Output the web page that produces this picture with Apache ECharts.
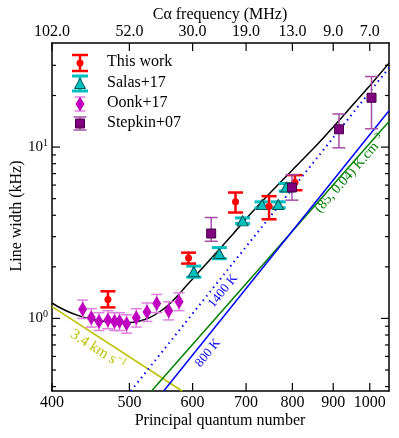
<!DOCTYPE html>
<html>
<head>
<meta charset="utf-8">
<script src="https://cdn.jsdelivr.net/npm/echarts@6/dist/echarts.min.js"></script>
<style>html,body{margin:0;padding:0;background:#fff}#chart{width:399px;height:438px}</style>
</head>
<body>
<div id="chart"></div>
<script>
// ticks
const xTicks = [400, 500, 600, 700, 800, 900, 1000]
const freqLabels = ['102.0', '52.0', '30.0', '19.0', '13.0', '9.0', '7.0']
const yMajor = [1, 10]
const yMajorExp = ['0', '1']
const yMinor = [0.4, 0.5, 0.6, 0.7, 0.8, 0.9, 2, 3, 4, 5, 6, 7, 8, 9, 20, 30]

// This work
const thisN = [470, 593, 679, 748, 806]
const thisW = [1.29, 2.25, 4.79, 4.52, 6.22]
const thisLo = [1.16, 2.09, 4.15, 3.79, 5.6]
const thisHi = [1.44, 2.42, 5.43, 5.17, 6.86]

// Salas+17
const salasN = [602, 648, 693, 733, 768, 786]
const salasW = [1.87, 2.39, 3.71, 4.62, 4.62, 5.84]
const salasLo = [1.74, 2.23, 3.58, 4.42, 4.42, 5.53]
const salasHi = [2.02, 2.59, 3.86, 4.79, 4.79, 6.13]

// Oonk+17
const oonkN = [437, 448, 458, 470, 479, 486, 496, 510, 526, 541, 560, 577]
const oonkW = [1.13, 1.01, 0.96, 0.98, 0.96, 0.96, 0.93, 1.01, 1.09, 1.22, 1.11, 1.25]
const oonkLo = [1.0, 0.89, 0.85, 0.87, 0.85, 0.85, 0.82, 0.89, 0.96, 1.08, 0.98, 1.11]
const oonkHi = [1.28, 1.14, 1.08, 1.11, 1.08, 1.08, 1.05, 1.14, 1.23, 1.38, 1.25, 1.41]

// Stepkin+07
const stepN = [633, 799, 915, 1005]
const stepW = [3.13, 5.81, 12.7, 19.4]
const stepLo = [2.82, 4.9, 9.9, 12.8]
const stepHi = [3.88, 6.9, 15.6, 25.8]

// model curves
const modelN = [400, 410, 420, 430, 440, 455, 470, 485, 500, 515, 530, 545, 560, 575, 587, 600, 625, 650, 675, 700, 750, 800, 850, 900, 950, 1000, 1057]
const modelW = [1.23, 1.15, 1.09, 1.045, 1.01, 0.975, 0.955, 0.945, 0.945, 0.965, 1.01, 1.09, 1.2, 1.36, 1.52, 1.70, 2.1, 2.57, 3.13, 3.82, 5.4, 7.35, 9.8, 13.1, 17.4, 22.8, 30.9]
const dopN = [400, 582]
const dopW = [1.17, 0.377]
const collN = [533, 1057]
const collW = [0.377, 14.1]
const rad800N = [552, 1057]
const rad800W = [0.377, 16.3]
const rad1400N = [502, 1057]
const rad1400W = [0.377, 29]

const X_MIN = 400, X_MAX = 1057, Y_MIN = 0.377, Y_MAX = 40.5
const FONT = '"Liberation Serif", "DejaVu Serif", serif'

const pairs = (xs, ys) => xs.map((x, i) => [x, ys[i]])
const triples = (xs, lo, hi) => xs.map((x, i) => [x, lo[i], hi[i]])

function errRenderer(color, width, cap) {
  return function (params, api) {
    const a = api.coord([api.value(0), api.value(1)])
    const b = api.coord([api.value(0), api.value(2)])
    const st = { stroke: color, lineWidth: width }
    return {
      type: 'group',
      children: [
        { type: 'line', shape: { x1: a[0], y1: a[1], x2: b[0], y2: b[1] }, style: st },
        { type: 'line', shape: { x1: a[0] - cap / 2, y1: a[1], x2: a[0] + cap / 2, y2: a[1] }, style: st },
        { type: 'line', shape: { x1: b[0] - cap / 2, y1: b[1], x2: b[0] + cap / 2, y2: b[1] }, style: st }
      ]
    }
  }
}

function renderXTick(params, api) {
  const v = api.value(0)
  const b = api.coord([v, Y_MIN])
  const t = api.coord([v, Y_MAX])
  const st = { stroke: '#000', lineWidth: 1.2 }
  return {
    type: 'group',
    children: [
      { type: 'line', shape: { x1: b[0], y1: b[1], x2: b[0], y2: b[1] - 8 }, style: st },
      { type: 'line', shape: { x1: t[0], y1: t[1], x2: t[0], y2: t[1] + 8 }, style: st },
      { type: 'text', style: { text: String(v), x: b[0], y: b[1] + 12, align: 'center', verticalAlign: 'middle', font: '16px ' + FONT, fill: '#000' } },
      { type: 'text', style: { text: freqLabels[params.dataIndex], x: t[0], y: t[1] - 11, align: 'center', verticalAlign: 'middle', font: '16px ' + FONT, fill: '#000' } }
    ]
  }
}

function renderYTick(major) {
  return function (params, api) {
    const v = api.value(0)
    const l = api.coord([X_MIN, v])
    const r = api.coord([X_MAX, v])
    const len = major ? 8 : 4
    const st = { stroke: '#000', lineWidth: 1.2 }
    const kids = [
      { type: 'line', shape: { x1: l[0], y1: l[1], x2: l[0] + len, y2: l[1] }, style: st },
      { type: 'line', shape: { x1: r[0], y1: r[1], x2: r[0] - len, y2: r[1] }, style: st }
    ]
    if (major) {
      kids.push({
        type: 'text',
        style: {
          text: '{a|10}{b|' + yMajorExp[params.dataIndex] + '}',
          x: l[0] - 4, y: l[1], align: 'right', verticalAlign: 'middle',
          rich: {
            a: { font: '15px ' + FONT, fill: '#000', lineHeight: 18 },
            b: { font: '10px ' + FONT, fill: '#000', verticalAlign: 'top', lineHeight: 18 }
          }
        }
      })
    }
    return { type: 'group', children: kids }
  }
}

const myChart = echarts.init(document.getElementById('chart'))

const lineBase = { type: 'line', symbol: 'none', silent: true, z: 2, animation: false }

const option = {
  animation: false,
  grid: { left: 52, right: 10, top: 43, bottom: 47 },
  xAxis: [
    { type: 'log', min: X_MIN, max: X_MAX, axisLabel: { show: false }, axisTick: { show: false }, splitLine: { show: false }, minorTick: { show: false },
      axisLine: { lineStyle: { color: '#000', width: 1.5 } } },
    { type: 'log', position: 'top', min: X_MIN, max: X_MAX, axisLabel: { show: false }, axisTick: { show: false }, splitLine: { show: false },
      axisLine: { lineStyle: { color: '#000', width: 1.5 } } }
  ],
  yAxis: [
    { type: 'log', min: Y_MIN, max: Y_MAX, axisLabel: { show: false }, axisTick: { show: false }, splitLine: { show: false },
      axisLine: { show: true, lineStyle: { color: '#000', width: 1.5 } } },
    { type: 'log', position: 'right', min: Y_MIN, max: Y_MAX, axisLabel: { show: false }, axisTick: { show: false }, splitLine: { show: false },
      axisLine: { show: true, lineStyle: { color: '#000', width: 1.5 } } }
  ],
  series: [
    { ...lineBase, data: pairs(dopN, dopW), lineStyle: { color: '#bfbf00', width: 1.5 } },
    { ...lineBase, data: pairs(collN, collW), lineStyle: { color: '#008000', width: 1.5 } },
    { ...lineBase, data: pairs(rad800N, rad800W), lineStyle: { color: '#0000ff', width: 1.5 } },
    { ...lineBase, data: pairs(rad1400N, rad1400W), lineStyle: { color: '#0000ff', width: 2, type: [1.5, 4] } },
    { ...lineBase, data: pairs(modelN, modelW), smooth: 0.15, lineStyle: { color: '#000', width: 1.5 } },

    { type: 'custom', z: 3, clip: false, renderItem: errRenderer('#df80df', 1.5, 11), data: triples(oonkN, oonkLo, oonkHi), encode: { x: 0, y: [1, 2] } },
    { type: 'scatter', z: 4, symbol: 'diamond', symbolSize: [9, 15], itemStyle: { color: '#bf00bf', opacity: 1 }, data: pairs(oonkN, oonkW) },

    { type: 'custom', z: 3, clip: false, renderItem: errRenderer('#00bfbf', 3, 15), data: triples(salasN, salasLo, salasHi), encode: { x: 0, y: [1, 2] } },
    { type: 'scatter', z: 4, symbol: 'triangle', symbolSize: [11, 10], itemStyle: { color: '#00bfbf', borderColor: '#005555', borderWidth: 1, opacity: 1 }, data: pairs(salasN, salasW) },

    { type: 'custom', z: 5, clip: false, renderItem: errRenderer('#ff0000', 2.5, 15), data: triples(thisN, thisLo, thisHi), encode: { x: 0, y: [1, 2] } },
    { type: 'scatter', z: 6, symbol: 'circle', symbolSize: 7, itemStyle: { color: '#ff0000', opacity: 1 }, data: pairs(thisN, thisW) },

    { type: 'custom', z: 7, clip: false, renderItem: errRenderer('#a64da6', 1.5, 13), data: triples(stepN, stepLo, stepHi), encode: { x: 0, y: [1, 2] } },
    { type: 'scatter', z: 8, symbol: 'rect', symbolSize: 9, itemStyle: { color: '#800080', borderColor: '#400040', borderWidth: 1, opacity: 1 }, data: pairs(stepN, stepW) },

    { type: 'custom', z: 10, clip: false, silent: true, renderItem: renderXTick, data: xTicks.map(v => [v, Y_MIN]) },
    { type: 'custom', z: 10, clip: false, silent: true, renderItem: renderYTick(true), data: yMajor.map(v => [v, X_MIN]), encode: { x: 1, y: 0 } },
    { type: 'custom', z: 10, clip: false, silent: true, renderItem: renderYTick(false), data: yMinor.map(v => [v, X_MIN]), encode: { x: 1, y: 0 } }
  ],
  graphic: [
    // axis names
    { type: 'text', x: 220, y: 421, style: { text: 'Principal quantum number', font: '16px ' + FONT, fill: '#000', align: 'center', verticalAlign: 'middle' } },
    { type: 'text', x: 220, y: 15, style: { text: 'Cα frequency (MHz)', font: '16px ' + FONT, fill: '#000', align: 'center', verticalAlign: 'middle' } },
    { type: 'text', x: 17, y: 216, rotation: Math.PI / 2, style: { text: 'Line width (kHz)', font: '16px ' + FONT, fill: '#000', align: 'center', verticalAlign: 'middle' } },

    // line annotations
    { type: 'text', x: 98, y: 350, rotation: -0.57, z: 20,
      style: { text: '3.4 km s{s|−1}', font: '15px ' + FONT, fill: '#bfbf00', align: 'center', verticalAlign: 'middle',
        rich: { s: { font: '10px ' + FONT, fill: '#bfbf00', verticalAlign: 'top', lineHeight: 19 } } } },
    { type: 'text', x: 223, y: 291, rotation: 0.895, z: 20, style: { text: '1400 K', font: '13px ' + FONT, fill: '#0000ff', align: 'center', verticalAlign: 'middle' } },
    { type: 'text', x: 208, y: 353, rotation: 0.89, z: 20, style: { text: '800 K', font: '13px ' + FONT, fill: '#0000ff', align: 'center', verticalAlign: 'middle' } },
    { type: 'text', x: 350, y: 174, rotation: 0.846, z: 20,
      style: { text: '(85, 0.04) K.cm{s|−3}', font: '14px ' + FONT, fill: '#008000', align: 'center', verticalAlign: 'middle',
        rich: { s: { font: '9px ' + FONT, fill: '#008000', verticalAlign: 'top', lineHeight: 18 } } } },

    // legend: This work
    { type: 'line', shape: { x1: 80, y1: 55, x2: 80, y2: 71 }, style: { stroke: '#ff0000', lineWidth: 2.5 } },
    { type: 'line', shape: { x1: 72, y1: 55, x2: 88, y2: 55 }, style: { stroke: '#ff0000', lineWidth: 2.5 } },
    { type: 'line', shape: { x1: 72, y1: 71, x2: 88, y2: 71 }, style: { stroke: '#ff0000', lineWidth: 2.5 } },
    { type: 'circle', shape: { cx: 80, cy: 63, r: 3.5 }, style: { fill: '#ff0000' } },
    { type: 'text', x: 107, y: 62, style: { text: 'This work', font: '16px ' + FONT, fill: '#000', verticalAlign: 'middle' } },
    // legend: Salas+17
    { type: 'line', shape: { x1: 80, y1: 76, x2: 80, y2: 91 }, style: { stroke: '#00bfbf', lineWidth: 3 } },
    { type: 'line', shape: { x1: 72, y1: 76, x2: 88, y2: 76 }, style: { stroke: '#00bfbf', lineWidth: 3 } },
    { type: 'line', shape: { x1: 72, y1: 91, x2: 88, y2: 91 }, style: { stroke: '#00bfbf', lineWidth: 3 } },
    { type: 'polygon', shape: { points: [[80, 78.5], [85.5, 88.5], [74.5, 88.5]] }, style: { fill: '#00bfbf', stroke: '#005555', lineWidth: 1 } },
    { type: 'text', x: 107, y: 83, style: { text: 'Salas+17', font: '16px ' + FONT, fill: '#000', verticalAlign: 'middle' } },
    // legend: Oonk+17
    { type: 'line', shape: { x1: 80, y1: 97, x2: 80, y2: 111 }, style: { stroke: '#df80df', lineWidth: 1.5 } },
    { type: 'line', shape: { x1: 74.5, y1: 97, x2: 85.5, y2: 97 }, style: { stroke: '#df80df', lineWidth: 1.5 } },
    { type: 'line', shape: { x1: 74.5, y1: 111, x2: 85.5, y2: 111 }, style: { stroke: '#df80df', lineWidth: 1.5 } },
    { type: 'polygon', shape: { points: [[80, 96.5], [84.5, 104], [80, 111.5], [75.5, 104]] }, style: { fill: '#bf00bf' } },
    { type: 'text', x: 107, y: 103, style: { text: 'Oonk+17', font: '16px ' + FONT, fill: '#000', verticalAlign: 'middle' } },
    // legend: Stepkin+07
    { type: 'line', shape: { x1: 80, y1: 117, x2: 80, y2: 130 }, style: { stroke: '#a64da6', lineWidth: 1.5 } },
    { type: 'line', shape: { x1: 73.5, y1: 117, x2: 86.5, y2: 117 }, style: { stroke: '#a64da6', lineWidth: 1.5 } },
    { type: 'line', shape: { x1: 73.5, y1: 130, x2: 86.5, y2: 130 }, style: { stroke: '#a64da6', lineWidth: 1.5 } },
    { type: 'rect', shape: { x: 75.5, y: 119, width: 9, height: 9 }, style: { fill: '#800080', stroke: '#400040', lineWidth: 1 } },
    { type: 'text', x: 107, y: 123, style: { text: 'Stepkin+07', font: '16px ' + FONT, fill: '#000', verticalAlign: 'middle' } }
  ]
}

option && myChart.setOption(option)
</script>
</body>
</html>
